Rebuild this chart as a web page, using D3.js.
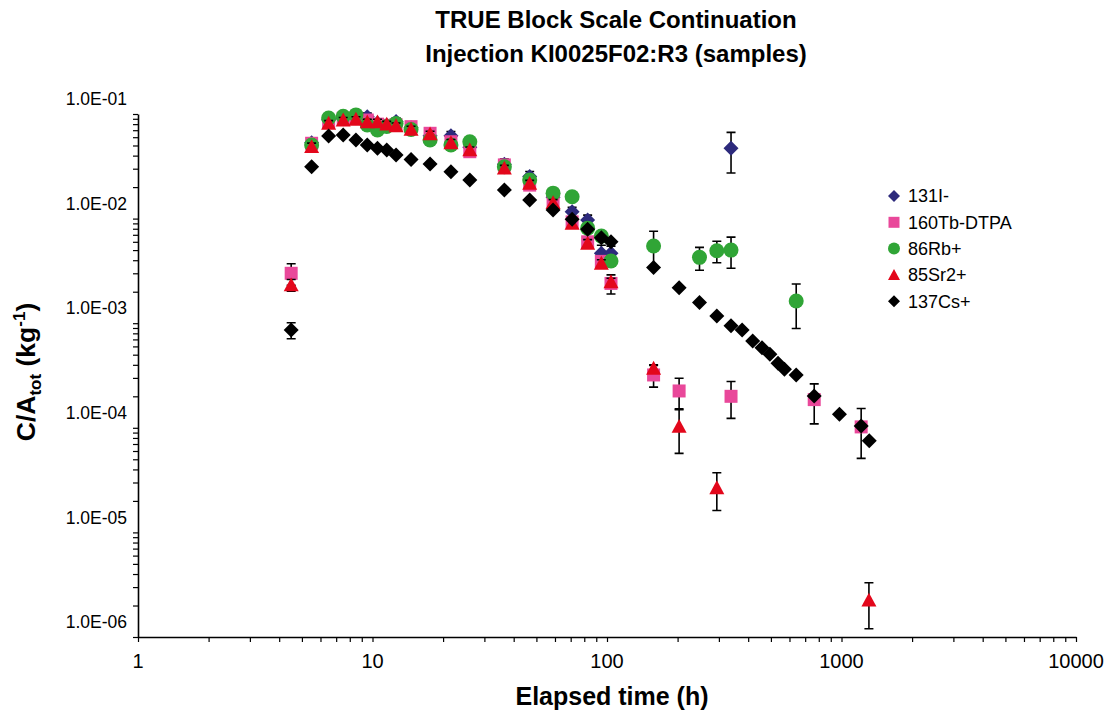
<!DOCTYPE html>
<html>
<head>
<meta charset="utf-8">
<script src="https://cdn.jsdelivr.net/npm/d3@7"></script>
<style>
	body { margin: 0; background: #fff; }
	text { font-family: 'Liberation Sans', Arial, sans-serif; fill: #000; }
</style>
</head>
<body>
<svg id="chart" width="1110" height="715"></svg>
<script>
// elapsed time (h) / C/Atot (kg-1) / error (+-) for each tracer
const iTime = [5.5, 6.5, 7.5, 8.5, 9.5, 10.5, 11.5, 12.6, 14.6, 17.6, 21.6, 26, 36.5, 46.8, 58.9, 71, 82.7, 94.6, 104, 338];
const iVal = [0.053, 0.088, 0.09, 0.092, 0.094, 0.082, 0.078, 0.085, 0.074, 0.062, 0.062, 0.048, 0.033, 0.0252, 0.016, 0.0116, 0.0097, 0.00466, 0.00466, 0.047];
const iErr = [0.005, 0.007, 0.007, 0.007, 0.008, 0.006, 0.006, 0.007, 0.006, 0.005, 0.006, 0.004, 0.004, 0.003, 0.0018, 0.0012, 0.0011, 0.0009, 0.0008, 0.0197];

const pTime = [4.5, 5.5, 6.5, 7.5, 8.5, 9.5, 10.5, 11.5, 12.6, 14.6, 17.6, 21.6, 26, 36.5, 46.8, 58.9, 71, 82.7, 94.6, 104, 158, 203, 338, 765, 1213];
const pVal = [0.003, 0.0525, 0.0844, 0.091, 0.091, 0.0876, 0.08, 0.078, 0.079, 0.0757, 0.0654, 0.0543, 0.0436, 0.0326, 0.0209, 0.0145, 0.0093, 0.006, 0.0039, 0.0024, 3.2e-4, 2.25e-4, 2.0e-4, 1.86e-4, 1.02e-4];
const pErr = [0.0007, 0.005, 0.006, 0.006, 0.006, 0.006, 0.006, 0.006, 0.006, 0.005, 0.005, 0.005, 0.004, 0.003, 0.002, 0.0012, 0.0008, 0.0005, 0.0004, 0.0005, 7.5e-5, 7.3e-5, 7.7e-5, 7.7e-5, 5.1e-5];

const gTime = [5.5, 6.5, 7.5, 8.5, 9.5, 10.5, 11.5, 12.6, 14.6, 17.6, 21.6, 26, 36.5, 46.8, 58.9, 71, 82.7, 94.6, 104, 158, 248, 294, 338, 641];
const gVal = [0.0506, 0.0916, 0.095, 0.098, 0.0785, 0.0703, 0.076, 0.081, 0.071, 0.0564, 0.0506, 0.0543, 0.0313, 0.0234, 0.0175, 0.0162, 0.0081, 0.0068, 0.00393, 0.00547, 0.00426, 0.00493, 0.005, 0.00163];
const gErr = [0.004, 0.006, 0.006, 0.006, 0.005, 0.005, 0.005, 0.005, 0.005, 0.004, 0.004, 0.004, 0.003, 0.002, 0.0015, 0.0015, 0.0008, 0.0007, 0.0004, 0.0021, 0.00105, 0.00115, 0.00165, 0.00074];

const rTime = [4.5, 5.5, 6.5, 7.5, 8.5, 9.5, 10.5, 11.5, 12.6, 14.6, 17.6, 21.6, 26, 36.5, 46.8, 58.9, 71, 82.7, 94.6, 104, 158, 203, 294, 1309];
const rVal = [0.00232, 0.0487, 0.0815, 0.0876, 0.089, 0.084, 0.084, 0.08, 0.077, 0.0714, 0.0644, 0.053, 0.0453, 0.0303, 0.0217, 0.0142, 0.009, 0.0058, 0.00374, 0.00249, 3.7e-4, 1.03e-4, 2.67e-5, 2.25e-6];
const rErr = [0.0003, 0.004, 0.005, 0.005, 0.005, 0.005, 0.005, 0.005, 0.005, 0.005, 0.004, 0.004, 0.003, 0.002, 0.0015, 0.001, 0.0007, 0.0005, 0.0003, 0.0002, 3e-5, 4.6e-5, 1.05e-5, 1.05e-6];

const cTime = [4.5, 5.5, 6.5, 7.5, 8.5, 9.5, 10.5, 11.5, 12.6, 14.6, 17.6, 21.6, 26, 36.5, 46.8, 58.9, 71, 82.7, 94.6, 104, 158, 203, 248, 294, 338, 377, 418, 458, 495, 536, 571, 641, 765, 980, 1213, 1313];
const cVal = [8.6e-4, 0.0313, 0.0616, 0.063, 0.0564, 0.0506, 0.047, 0.0453, 0.0406, 0.0368, 0.0333, 0.0281, 0.0234, 0.0188, 0.0151, 0.0121, 0.00985, 0.0079, 0.00657, 0.006, 0.0034, 0.00218, 0.00158, 0.00117, 9.46e-4, 8.6e-4, 6.76e-4, 5.83e-4, 5.04e-4, 4.14e-4, 3.63e-4, 3.2e-4, 2.01e-4, 1.35e-4, 1.04e-4, 7.5e-5];
const cErr = [1.5e-4, 0, 0, 0, 0, 0, 0, 0, 0, 0, 0, 0, 0, 0, 0, 0, 0, 0, 0, 0, 0, 0, 0, 0, 0, 0, 0, 0, 0, 0, 0, 0, 0, 0, 0, 0];

const seriesNames = ['131I-', '160Tb-DTPA', '86Rb+', '85Sr2+', '137Cs+'];
const seriesColors = ['#2d2a7c', '#e9489a', '#30a536', '#e3071b', '#000000'];
const seriesShapes = ['diamond', 'square', 'circle', 'triangle', 'diamond'];

const xTickLabels = [1, 10, 100, 1000, 10000];
const yTickLabels = [1e-6, 1e-5, 1e-4, 1e-3, 1e-2, 1e-1];

const titleLines = ['TRUE Block Scale Continuation', 'Injection KI0025F02:R3 (samples)'];

const series = [
	[iTime, iVal, iErr],
	[pTime, pVal, pErr],
	[gTime, gVal, gErr],
	[rTime, rVal, rErr],
	[cTime, cVal, cErr],
].map(([t, v, e], k) => ({
	name: seriesNames[k],
	color: seriesColors[k],
	shape: seriesShapes[k],
	points: t.map((time, j) => ({ time, value: v[j], err: e[j] })),
}));

const svg = d3.select('#chart');

const x = d3.scaleLog().domain([1, 10000]).range([138, 1076]);
const y = d3.scaleLog().domain([1e-6, 1e-1]).range([637, 114]);

// marker path for a shape of half-size r
function markerPath(shape, r) {
	if (shape === 'diamond') return `M0,${-r}L${r},0L0,${r}L${-r},0Z`;
	if (shape === 'square') return `M${-r},${-r}H${r}V${r}H${-r}Z`;
	if (shape === 'triangle') return `M0,${-r}L${r},${r * 0.85}L${-r},${r * 0.85}Z`;
	return d3.symbol(d3.symbolCircle, Math.PI * r * r)();
}

// minor ticks 1..9 per decade
const decadeTicks = (lo, hi) =>
	d3.range(lo, hi).flatMap((e) => d3.range(1, 10).map((m) => m * Math.pow(10, e))).concat([Math.pow(10, hi)]);

const yAxis = svg
	.append('g')
	.attr('transform', 'translate(138,0)')
	.call(d3.axisLeft(y).tickValues(decadeTicks(-6, -1)).tickSize(5).tickSizeOuter(0).tickFormat(''));

const xAxis = svg
	.append('g')
	.attr('transform', 'translate(0,637)')
	.call(d3.axisBottom(x).tickValues(decadeTicks(0, 4)).tickSize(5).tickSizeOuter(0).tickFormat(''));

[yAxis, xAxis].forEach((g) => {
	g.select('.domain').attr('stroke', '#000').attr('stroke-width', 1.6);
	g.selectAll('.tick line').attr('stroke', '#000').attr('stroke-width', 1.2);
});

const expLabel = (v) => {
	const e = Math.round(Math.log10(v));
	return '1.0E' + (e < 0 ? '-' : '+') + String(Math.abs(e)).padStart(2, '0');
};

// NOTE: the value labels sit a bit above their ticks in the original
svg
	.append('g')
	.selectAll('text')
	.data(yTickLabels)
	.join('text')
	.attr('x', 127)
	.attr('y', (d) => y(d) - 15)
	.attr('dy', '0.35em')
	.attr('text-anchor', 'end')
	.style('font-size', '17.5px')
	.text(expLabel);

svg
	.append('g')
	.selectAll('text')
	.data(xTickLabels)
	.join('text')
	.attr('x', (d) => x(d))
	.attr('y', 668)
	.attr('text-anchor', 'middle')
	.style('font-family', "'Liberation Sans Narrow', 'Liberation Sans', sans-serif")
	.style('font-size', '20px')
	.text((d) => d);

// titles
svg
	.append('g')
	.selectAll('text')
	.data(titleLines)
	.join('text')
	.attr('x', 616)
	.attr('y', (d, i) => 28 + i * 34)
	.attr('text-anchor', 'middle')
	.style('font-size', '24px')
	.style('font-weight', 'bold')
	.text((d) => d);

svg
	.append('text')
	.attr('x', 612)
	.attr('y', 705)
	.attr('text-anchor', 'middle')
	.style('font-family', "'Liberation Sans Narrow', 'Liberation Sans', sans-serif")
	.style('font-size', '25px')
	.style('font-weight', 'bold')
	.text('Elapsed time (h)');

const yTitle = svg
	.append('text')
	.attr('transform', 'translate(35,372) rotate(-90)')
	.attr('text-anchor', 'middle')
	.style('font-size', '26.5px')
	.style('font-weight', 'bold');
yTitle.append('tspan').text('C/A');
yTitle.append('tspan').attr('dy', 6).style('font-size', '17px').text('tot');
yTitle.append('tspan').attr('dy', -6).text(' (kg');
yTitle.append('tspan').attr('dy', -10).style('font-size', '17px').text('-1');
yTitle.append('tspan').attr('dy', 10).text(')');

// error bars then markers, series by series
const plot = svg.append('g');

series.forEach((s) => {
	const g = plot.append('g');
	const withErr = s.points.filter((p) => p.err > 0);

	g.selectAll('.bar')
		.data(withErr)
		.join('path')
		.attr('class', 'bar')
		.attr('fill', 'none')
		.attr('stroke', '#000')
		.attr('stroke-width', 1.6)
		.attr('d', (p) => {
			const cx = x(p.time);
			const lo = y(Math.max(p.value - p.err, 1e-7));
			const hi = y(p.value + p.err);
			return `M${cx},${lo}V${hi}M${cx - 4.5},${hi}H${cx + 4.5}M${cx - 4.5},${lo}H${cx + 4.5}`;
		});

	g.selectAll('.mark')
		.data(s.points)
		.join('path')
		.attr('class', 'mark')
		.attr('transform', (p) => `translate(${x(p.time)},${y(p.value)})`)
		.attr('d', markerPath(s.shape, s.shape === 'square' ? 6.5 : 7.5))
		.attr('fill', s.color);
});

// legend
const legend = svg
	.append('g')
	.selectAll('g')
	.data(series)
	.join('g')
	.attr('transform', (d, i) => `translate(894,${196 + i * 26.3})`);

legend
	.append('path')
	.attr('d', (d) => markerPath(d.shape, d.shape === 'square' ? 5.5 : 6))
	.attr('fill', (d) => d.color);

legend
	.append('text')
	.attr('x', 14)
	.attr('dy', '0.35em')
	.style('font-size', '18px')
	.text((d) => d.name);
</script>
</body>
</html>
